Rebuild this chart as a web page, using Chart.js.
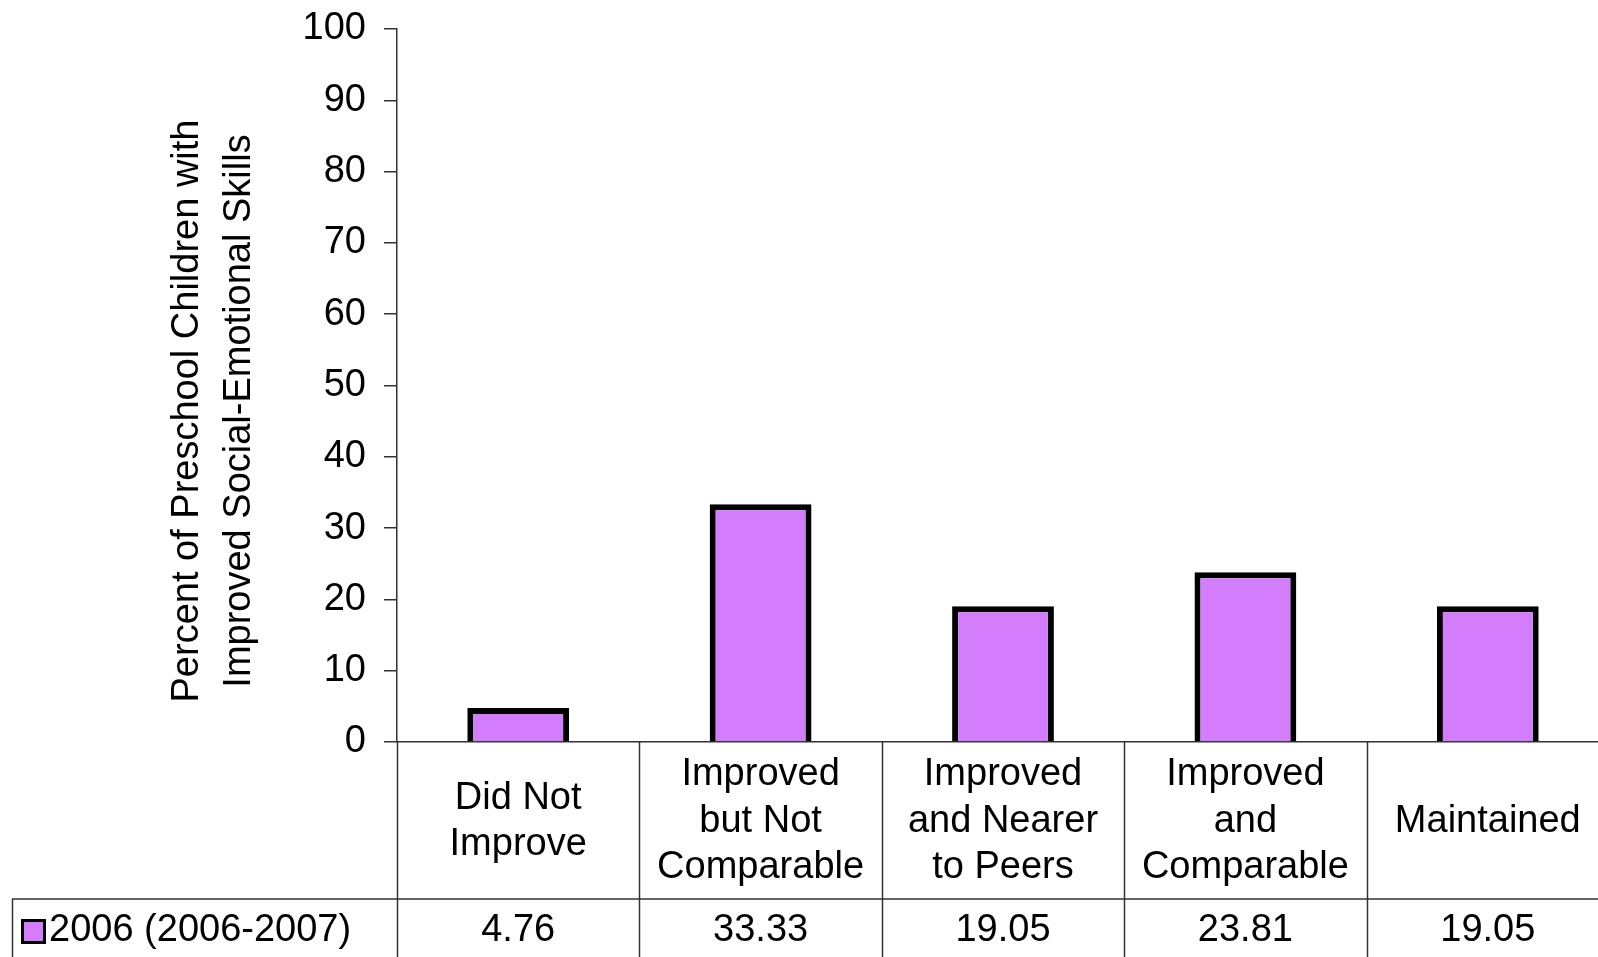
<!DOCTYPE html>
<html>
<head>
<meta charset="utf-8">
<script src="https://cdn.jsdelivr.net/npm/chart.js@4"></script>
<style>
html, body { margin: 0; padding: 0; overflow: hidden; background: #fff; }
canvas { display: block; }
</style>
</head>
<body>
<canvas id="chart" width="1612" height="957"></canvas>
<script>
const categories = [
    ['Did Not', 'Improve'],
    ['Improved', 'but Not', 'Comparable'],
    ['Improved', 'and Nearer', 'to Peers'],
    ['Improved', 'and', 'Comparable'],
    ['Maintained']
];
const values2006 = [4.76, 33.33, 19.05, 23.81, 19.05];
const valueLabels = ['4.76', '33.33', '19.05', '23.81', '19.05'];
const seriesName = '2006 (2006-2007)';
const yTitle = ['Percent of Preschool Children with', 'Improved Social-Emotional Skills'];

const FONT = "'Liberation Sans', Arial, sans-serif";
const barColor = '#D47DFC';
const lineColor = '#333';

// data table under the plot, drawn from the x scale
const tablePlugin = {
    id: 'dataTable',
    afterDraw(chart) {
        const ctx = chart.ctx;
        const x = chart.scales.x;
        const y = chart.scales.y;
        const n = categories.length;
        const w = (x.right - x.left) / n;
        const top = y.bottom;
        const rowY = top + 157;
        const bottom = chart.height;
        const start = x.getPixelForValue(0) - w / 2;

        ctx.save();
        ctx.strokeStyle = lineColor;
        ctx.lineWidth = 1.5;
        ctx.beginPath();
        for (let i = 0; i <= n; i++) {
            const bx = Math.round(start + i * w) + 0.5;
            ctx.moveTo(bx, top);
            ctx.lineTo(bx, bottom);
        }
        ctx.moveTo(12, rowY);
        ctx.lineTo(chart.width, rowY);
        ctx.moveTo(12.5, rowY);
        ctx.lineTo(12.5, bottom);
        ctx.stroke();

        ctx.fillStyle = '#000';
        ctx.font = '38px ' + FONT;
        ctx.textAlign = 'center';
        ctx.textBaseline = 'middle';
        const midY = (top + rowY) / 2 + 1;
        const lh = 46.5;
        categories.forEach((lines, i) => {
            const cx = x.getPixelForValue(i);
            const y0 = midY - (lines.length - 1) * lh / 2;
            lines.forEach((t, j) => ctx.fillText(t, cx, y0 + j * lh));
            ctx.fillText(valueLabels[i], cx, rowY + 32);
        });

        // legend key
        ctx.fillStyle = '#000';
        ctx.fillRect(21, 919, 25, 25);
        ctx.fillStyle = barColor;
        ctx.fillRect(24, 922, 19, 19);
        ctx.fillStyle = '#000';
        ctx.textAlign = 'left';
        ctx.fillText(seriesName, 49, rowY + 32);

        // y axis title
        ctx.translate(188, 411);
        ctx.rotate(-Math.PI / 2);
        ctx.textAlign = 'center';
        yTitle.forEach((t, j) => ctx.fillText(t, 0, j * 52));
        ctx.restore();
    }
};

new Chart(document.getElementById('chart'), {
    type: 'bar',
    data: {
        labels: categories,
        datasets: [{
            label: seriesName,
            data: values2006,
            backgroundColor: barColor,
            borderColor: '#000',
            borderWidth: 6,
            barPercentage: 0.42,
            categoryPercentage: 1
        }]
    },
    options: {
        responsive: false,
        animation: false,
        layout: { padding: { top: 29, right: 3, left: 0, bottom: 0 } },
        plugins: {
            legend: { display: false },
            tooltip: { enabled: false }
        },
        scales: {
            x: {
                grid: { display: false },
                border: { display: true, color: lineColor, width: 1.5 },
                ticks: { display: false },
                afterFit: s => { s.height = 215; }
            },
            y: {
                min: 0,
                max: 100,
                ticks: {
                    stepSize: 10,
                    color: '#000',
                    padding: 18,
                    font: { family: FONT, size: 38 }
                },
                grid: {
                    drawOnChartArea: false,
                    drawTicks: true,
                    tickLength: 13,
                    color: lineColor,
                    lineWidth: 1.5
                },
                border: { display: true, color: lineColor, width: 1.5 },
                afterFit: s => {
                    s.width = 397;
                    s.paddingTop = 0;
                    s.paddingBottom = 0;
                }
            }
        }
    },
    plugins: [tablePlugin]
});
</script>
</body>
</html>
